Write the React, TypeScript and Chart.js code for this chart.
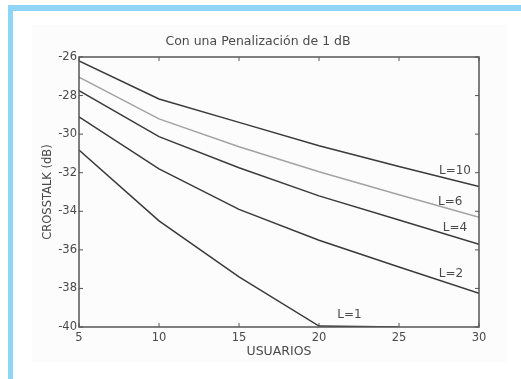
import React, { useEffect, useRef } from "react";
import { Chart, registerables } from "chart.js";

Chart.register(...registerables);

// ---- data ----
const users = [5, 10, 15, 20, 25, 30];
const seriesL10 = [-26.2, -28.18, -29.39, -30.6, -31.68, -32.72];
const seriesL6 = [-27.05, -29.21, -30.65, -31.95, -33.14, -34.31];
const seriesL4 = [-27.75, -30.13, -31.74, -33.2, -34.45, -35.71];
const seriesL2 = [-29.1, -31.8, -33.9, -35.5, -36.89, -38.25];
const seriesL1 = [-30.82, -34.5, -37.4, -39.95, -40.0, null];
const seriesNames = ["L=10", "L=6", "L=4", "L=2", "L=1"];
// label anchors in data units (users, dB)
const labelUsers = [28.5, 28.2, 28.5, 28.25, 21.9];
const labelDb = [-31.9, -33.5, -34.88, -37.25, -39.37];

const titleText = "Con una Penalización de 1 dB";
const xTitle = "USUARIOS";
const yTitle = "CROSSTALK (dB)";

const FONT = '"DejaVu Sans", "Liberation Sans", Arial, sans-serif';
const TEXT = "#4a4a4a";

const framePlugin = {
  id: "frame",
  afterDraw(chart: any) {
    const { ctx, chartArea: a, scales } = chart;
    const xs = scales.x;
    const ys = scales.y;
    ctx.save();
    ctx.strokeStyle = "#555";
    ctx.lineWidth = 1.5;
    ctx.strokeRect(a.left, a.top, a.right - a.left, a.bottom - a.top);
    ctx.lineWidth = 1;
    ctx.beginPath();
    xs.ticks.forEach((t: any) => {
      const px = xs.getPixelForValue(t.value);
      ctx.moveTo(px, a.bottom);
      ctx.lineTo(px, a.bottom - 4);
      ctx.moveTo(px, a.top);
      ctx.lineTo(px, a.top + 4);
    });
    ys.ticks.forEach((t: any) => {
      const py = ys.getPixelForValue(t.value);
      ctx.moveTo(a.left, py);
      ctx.lineTo(a.left + 4, py);
      ctx.moveTo(a.right, py);
      ctx.lineTo(a.right - 4, py);
    });
    ctx.stroke();
    ctx.fillStyle = TEXT;
    ctx.textAlign = "center";
    ctx.textBaseline = "middle";
    // title
    ctx.font = "12.5px " + FONT;
    ctx.fillText(titleText, (a.left + a.right) / 2 - 21, a.top - 15.5);
    // curve labels
    ctx.font = "12px " + FONT;
    seriesNames.forEach((n, i) => {
      ctx.fillText(n, xs.getPixelForValue(labelUsers[i]), ys.getPixelForValue(labelDb[i]));
    });
    ctx.restore();
  },
};

export default function App() {
  const ref = useRef<HTMLCanvasElement | null>(null);
  useEffect(() => {
    if (!ref.current) return;
    const mk = (data: (number | null)[], color: string) => ({
      data: users.map((u, i) => ({ x: u, y: data[i] })),
      borderColor: color,
      borderWidth: 1.5,
      pointRadius: 0,
      tension: 0,
      fill: false,
      spanGaps: false,
    });
    const chart = new Chart(ref.current, {
      type: "line",
      data: {
        datasets: [
          mk(seriesL10, "#3a3a3a"),
          mk(seriesL6, "#a3a3a3"),
          mk(seriesL4, "#3a3a3a"),
          mk(seriesL2, "#3a3a3a"),
          mk(seriesL1, "#3a3a3a"),
        ] as any,
      },
      options: {
        animation: false,
        responsive: false,
        devicePixelRatio: 1,
        layout: { padding: { top: 57, left: 0, right: 42, bottom: 0 } },
        plugins: {
          legend: { display: false },
          tooltip: { enabled: false },
          title: { display: false },
        },
        scales: {
          x: {
            type: "linear",
            min: 5,
            max: 30,
            ticks: { stepSize: 5, color: TEXT, font: { family: FONT, size: 11.5 }, padding: 4, maxRotation: 0 },
            grid: { display: false, drawTicks: false },
            border: { display: false },
            title: {
              display: true,
              text: xTitle,
              color: TEXT,
              font: { family: FONT, size: 12.5 },
              padding: { top: 0, bottom: 19.5 },
            },
            afterFit: (s: any) => {
              s.height = 52;
            },
          },
          y: {
            type: "linear",
            min: -40,
            max: -26,
            ticks: { stepSize: 2, color: TEXT, font: { family: FONT, size: 11.5 }, padding: 2 },
            grid: { display: false, drawTicks: false },
            border: { display: false },
            title: {
              display: true,
              text: yTitle,
              color: TEXT,
              font: { family: FONT, size: 11.5 },
              padding: { top: 41, bottom: 0 },
            },
            afterFit: (s: any) => {
              s.width = 79;
            },
          },
        },
      } as any,
      plugins: [framePlugin],
    });
    return () => chart.destroy();
  }, []);

  return (
    <div style={{ position: "absolute", left: 0, top: 0, width: 521, height: 379, background: "#ffffff", overflow: "hidden" }}>
      <div style={{ position: "absolute", left: 32, top: 25, width: 475, height: 337, background: "#fcfcfc" }} />
      <div style={{ position: "absolute", left: 8, top: 5, width: 513, height: 6, background: "#8fd6f6" }} />
      <div style={{ position: "absolute", left: 8, top: 5, width: 5, height: 374, background: "#8fd6f6" }} />
      <canvas ref={ref} width={521} height={379} style={{ position: "absolute", left: 0, top: 0, width: 521, height: 379 }} />
    </div>
  );
}
